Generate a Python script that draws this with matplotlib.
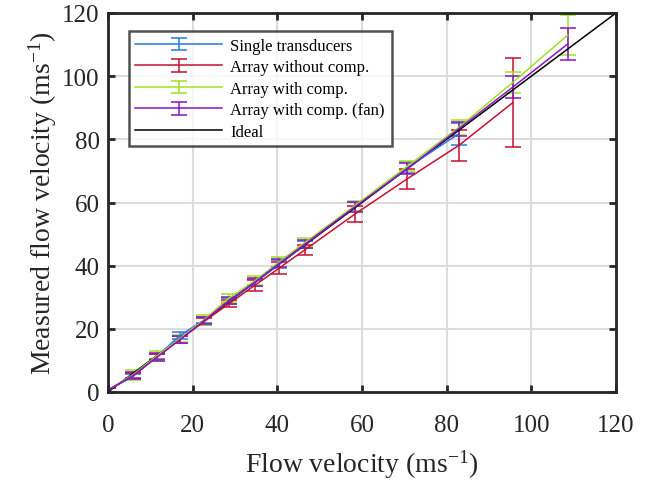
import matplotlib
matplotlib.use("Agg")
import matplotlib.pyplot as plt
from matplotlib.legend_handler import HandlerErrorbar
from matplotlib.container import ErrorbarContainer

# ---- data ----
flow = [0, 5.9, 11.5, 17, 22.7, 28.6, 34.7, 40.5, 46.5, 58.3, 70.7, 82.9, 95.6, 108.6]

single = [0.6, 4.9, 11.2, 17.9, 22.8, 28.8, 34.6, 40.6, 46.7, 58.8, 71.0, 81.8]
single_err = [0.6, 0.8, 0.9, 1.0, 1.0, 1.0, 1.1, 1.2, 1.2, 1.5, 1.8, 3.5]

nocomp = [0.6, 5.2, 11.0, 16.6, 22.3, 28.0, 33.8, 39.3, 45.0, 56.3, 67.5, 78.1, 91.6]
nocomp_err = [0.6, 0.9, 1.0, 1.0, 1.1, 1.2, 1.7, 1.9, 1.6, 2.6, 3.2, 4.9, 14.1]

comp = [0.6, 5.5, 11.4, 17.0, 22.9, 29.8, 35.2, 41.3, 47.3, 59.0, 71.5, 83.8, 98.0, 113.0]
comp_err = [0.6, 1.6, 1.5, 1.2, 1.6, 1.2, 1.4, 1.6, 1.5, 1.6, 1.6, 2.4, 3.2, 6.4]

fan = [0.6, 5.2, 11.0, 16.6, 22.6, 29.0, 34.8, 40.8, 46.8, 58.6, 70.7, 83.4, 96.5, 110.2]
fan_err = [0.6, 1.0, 1.2, 1.2, 1.2, 1.2, 1.3, 1.3, 1.2, 1.6, 1.7, 2.2, 3.5, 5.1]

ideal = [0, 120]

labels = ["Single transducers", "Array without comp.", "Array with comp.",
          "Array with comp. (fan)", "Ideal"]
colors = ["#2a78e0", "#c8102e", "#a0e020", "#8a14c8", "black"]
xticks = [0, 20, 40, 60, 80, 100, 120]
yticks = [0, 20, 40, 60, 80, 100, 120]

plt.rcParams['font.family'] = ['Liberation Serif', 'DejaVu Serif']
plt.rcParams['mathtext.fontset'] = 'custom'
plt.rcParams['mathtext.rm'] = 'Liberation Serif'
plt.rcParams['mathtext.it'] = 'Liberation Serif:italic'

fig = plt.figure(figsize=(6.53, 4.85), dpi=100)
ax = fig.add_axes([108/653, 92/485, 508/653, 379/485])

series = [(single, single_err), (nocomp, nocomp_err), (comp, comp_err), (fan, fan_err)]
handles = []
for (vals, errs), c, lab in zip(series, colors[:4], labels[:4]):
    h = ax.errorbar(flow[:len(vals)], vals, yerr=errs, color=c, lw=1.1,
                    elinewidth=1.1, capsize=5.5, capthick=1.1, label=lab)
    handles.append(h)
h, = ax.plot(ideal, ideal, color=colors[4], lw=1.1, label=labels[4])
handles.append(h)

ax.set_xlim(0, 120)
ax.set_ylim(0, 120)
ax.set_xticks(xticks)
ax.set_yticks(yticks)
ax.grid(True, color="#dcdcdc", lw=1.5)
ax.set_axisbelow(True)
for s in ax.spines.values():
    s.set_linewidth(2)
    s.set_color("#262626")
ax.tick_params(direction='in', length=5, width=2, top=True, right=True,
               labelsize=18, colors="#262626")
ax.tick_params(axis='x', pad=16)
ax.tick_params(axis='y', pad=6)
ax.set_xlabel("Flow velocity (ms$^{-1}$)", fontsize=20, color="#262626", labelpad=8)
ax.set_ylabel("Measured flow velocity (ms$^{-1}$)", fontsize=20, color="#262626", labelpad=2)

leg = ax.legend(handles=handles, labels=labels, loc='upper left',
                bbox_to_anchor=(0.041, 0.9525), borderaxespad=0, fontsize=12,
                frameon=True, fancybox=False, handlelength=5.2, handletextpad=0.5,
                labelspacing=0.33, borderpad=0.4,
                handler_map={ErrorbarContainer: HandlerErrorbar(yerr_size=0.38)})
leg.get_frame().set_edgecolor("#262626")
leg.get_frame().set_linewidth(1.8)

fig.savefig("out.png", dpi=100)
